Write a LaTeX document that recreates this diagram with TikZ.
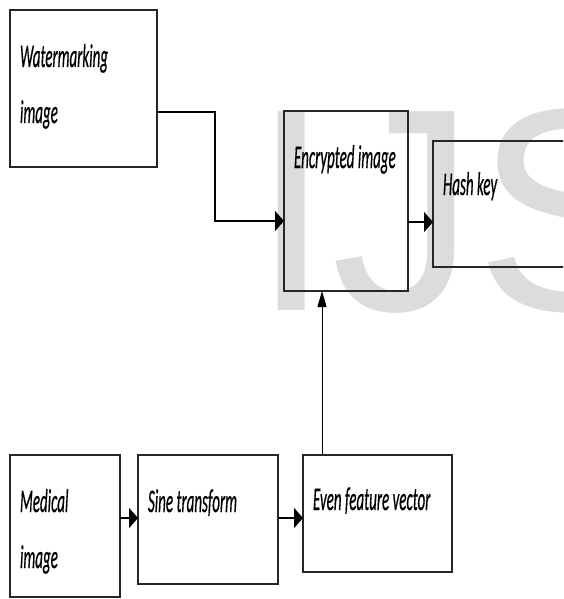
\documentclass[tikz,border=0pt]{standalone}
\usepackage{fontspec}
\setmainfont{Carlito}
\newfontfamily\wmfont{Liberation Sans}
\newfontfamily\lblfont[FakeBold=0.8]{Carlito}
\usetikzlibrary{arrows.meta,calc}
\definecolor{wmgray}{HTML}{DCDCDC}
\newcommand{\stxt}[1]{\scalebox{1}[2.2]{\lblfont\fontsize{15}{18}\selectfont\itshape #1}}
\tikzset{
  box/.style={draw=black!85, line width=1.3pt, rectangle, inner sep=0pt, outer sep=0pt},
  lbl/.style={anchor=base west, inner sep=0pt, outer sep=0pt},
  hconn/.style={line width=1.8pt, -{Triangle[length=9pt,width=20pt]}},
  vconn/.style={line width=1pt, -{Triangle[length=16pt,width=9pt]}},
}
\begin{document}
\begin{tikzpicture}[x=1pt,y=-1pt]
\useasboundingbox (0,0) rectangle (563,599);
\clip (0,0) rectangle (563,599);
\fill[white] (0,0) rectangle (563,599);
% watermark
\node[lbl, text=wmgray] (wm) at (251,310) {\wmfont\fontsize{289}{289}\selectfont IJS};
% boxes
\node[box, minimum width=147pt, minimum height=157pt] (wbox) at (83.5,88.5) {};
\node[box, minimum width=124pt, minimum height=180pt] (enc) at (346,201) {};
\node[box, minimum width=170pt, minimum height=126pt] (hash) at (518,204) {};
\node[box, minimum width=110pt, minimum height=142pt] (med) at (65,526) {};
\node[box, minimum width=140pt, minimum height=129pt] (sine) at (208,519.5) {};
\node[box, minimum width=149pt, minimum height=117pt] (even) at (377.5,513.5) {};
% labels
\node[lbl] (t1) at (20,67) {\stxt{Watermarking}};
\node[lbl] (t2) at (20,123) {\stxt{image}};
\node[lbl] (t3) at (294,168) {\stxt{Encrypted image}};
\node[lbl] (t4) at (443,195) {\stxt{Hash key}};
\node[lbl] (t5) at (20,512) {\stxt{Medical}};
\node[lbl] (t6) at (20,568) {\stxt{image}};
\node[lbl] (t7) at (148,512) {\stxt{Sine transform}};
\node[lbl] (t8) at (313,510) {\stxt{Even feature vector}};
% connector helper coordinates
\coordinate (wout) at (157,112);
\coordinate (bend) at (215,166);
\coordinate (ein) at (284,221);
\coordinate (eout) at (420,222);
\coordinate (row) at (130,518);
\coordinate (vx) at (322,400);
% connectors
\draw[hconn] (wbox.east |- wout) -| (bend) |- (enc.west |- ein);
\draw[hconn] (enc.east |- eout) -- (hash.west |- eout);
\draw[hconn] (med.east |- row) -- (sine.west |- row);
\draw[hconn] (sine.east |- row) -- (even.west |- row);
\draw[vconn] (even.north -| vx) -- (enc.south -| vx);
\end{tikzpicture}
\end{document}
